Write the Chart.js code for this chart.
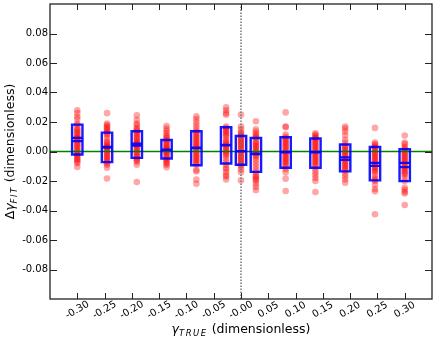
<!DOCTYPE html>
<html><head><meta charset="utf-8">
<script src="https://cdn.jsdelivr.net/npm/chart.js@4/dist/chart.umd.min.js"></script>
<style>html,body{margin:0;padding:0;background:#fff}canvas{display:block}</style>
</head><body>
<canvas id="c" width="436" height="341"></canvas>
<script>
// ---- data ----
const gammaTrue = [-0.3, -0.2455, -0.1909, -0.1364, -0.0818, -0.0273, 0.0, 0.0273, 0.0818, 0.1364, 0.1909, 0.2455, 0.3];

const samplesM300 = [0.028, 0.026, 0.0235, 0.022, 0.019, 0.018, 0.016, 0.015, 0.014, 0.013, 0.012, 0.011, 0.010, 0.009, 0.009, 0.008, 0.007, 0.006, 0.005, 0.004, 0.003, 0.002, 0.001, 0.000, -0.001, -0.002, -0.003, -0.004, -0.005, -0.006, -0.007, -0.008, -0.0105];
const samplesM245 = [0.026, 0.019, 0.018, 0.017, 0.016, 0.015, 0.014, 0.013, 0.012, 0.011, 0.009, 0.007, 0.006, 0.005, 0.004, 0.003, 0.003, 0.002, 0.001, 0.000, -0.001, -0.002, -0.003, -0.004, -0.005, -0.006, -0.007, -0.008, -0.009, -0.011, -0.0183];
const samplesM191 = [0.0245, 0.0215, 0.019, 0.018, 0.016, 0.015, 0.014, 0.013, 0.012, 0.011, 0.010, 0.009, 0.008, 0.007, 0.006, 0.005, 0.005, 0.004, 0.003, 0.002, 0.001, 0.000, -0.001, -0.002, -0.003, -0.004, -0.005, -0.006, -0.007, -0.009, -0.0207];
const samplesM136 = [0.0173, 0.0155, 0.014, 0.0125, 0.011, 0.010, 0.009, 0.008, 0.007, 0.006, 0.005, 0.004, 0.003, 0.002, 0.002, 0.001, 0.000, 0.000, -0.001, -0.002, -0.003, -0.004, -0.005, -0.006, -0.007, -0.008, -0.009, -0.0106];
const samplesM082 = [0.0238, 0.022, 0.020, 0.018, 0.016, 0.014, 0.013, 0.012, 0.011, 0.010, 0.009, 0.008, 0.007, 0.006, 0.005, 0.004, 0.003, 0.002, 0.001, 0.000, -0.001, -0.002, -0.003, -0.004, -0.005, -0.006, -0.007, -0.008, -0.009, -0.0125, -0.0135, -0.019, -0.0219];
const samplesM027 = [0.0299, 0.028, 0.026, 0.025, 0.017, 0.016, 0.015, 0.014, 0.013, 0.012, 0.011, 0.010, 0.008, 0.007, 0.006, 0.005, 0.004, 0.003, 0.002, 0.001, 0.000, -0.001, -0.002, -0.003, -0.005, -0.007, -0.009, -0.011, -0.012, -0.014, -0.016, -0.017, -0.019];
const samplesZero = [0.025, 0.017, 0.015, 0.013, 0.012, 0.011, 0.010, 0.009, 0.008, 0.007, 0.006, 0.005, 0.004, 0.003, 0.002, 0.001, 0.000, -0.001, -0.002, -0.003, -0.004, -0.005, -0.006, -0.007, -0.008, -0.009, -0.010, -0.012, -0.014, -0.0196];
const samplesP027 = [0.0205, 0.015, 0.0135, 0.012, 0.011, 0.010, 0.009, 0.007, 0.006, 0.005, 0.004, 0.003, 0.002, 0.001, 0.000, -0.001, -0.002, -0.003, -0.004, -0.006, -0.008, -0.010, -0.012, -0.014, -0.016, -0.017, -0.018, -0.019, -0.020, -0.022, -0.024, -0.0263];
const samplesP082 = [0.0265, 0.017, 0.0165, 0.0115, 0.010, 0.009, 0.008, 0.007, 0.006, 0.005, 0.004, 0.003, 0.002, 0.001, 0.000, -0.001, -0.002, -0.003, -0.004, -0.005, -0.006, -0.007, -0.008, -0.009, -0.010, -0.012, -0.014, -0.0184, -0.0268];
const samplesP136 = [0.0124, 0.0115, 0.0105, 0.0095, 0.009, 0.008, 0.007, 0.006, 0.005, 0.004, 0.003, 0.002, 0.001, 0.000, -0.001, -0.002, -0.003, -0.004, -0.005, -0.006, -0.007, -0.008, -0.009, -0.010, -0.012, -0.014, -0.016, -0.018, -0.020, -0.0275];
const samplesP191 = [0.0169, 0.0155, 0.0135, 0.011, 0.008, 0.006, 0.004, 0.003, 0.002, 0.001, 0.000, -0.001, -0.002, -0.003, -0.004, -0.005, -0.006, -0.007, -0.008, -0.009, -0.010, -0.011, -0.012, -0.013, -0.015, -0.017, -0.019, -0.0212];
const samplesP245 = [0.016, 0.006, 0.005, 0.004, 0.003, 0.002, 0.001, 0.000, -0.001, -0.002, -0.003, -0.004, -0.005, -0.006, -0.007, -0.008, -0.009, -0.010, -0.011, -0.012, -0.013, -0.014, -0.016, -0.018, -0.019, -0.020, -0.0225, -0.0255, -0.027, -0.0425];
const samplesP300 = [0.0108, 0.006, 0.005, 0.003, 0.002, 0.001, 0.000, -0.001, -0.002, -0.003, -0.004, -0.005, -0.006, -0.007, -0.008, -0.009, -0.010, -0.011, -0.012, -0.013, -0.014, -0.015, -0.016, -0.018, -0.020, -0.0245, -0.026, -0.0275, -0.0285, -0.0363];

const samples = [samplesM300, samplesM245, samplesM191, samplesM136, samplesM082, samplesM027, samplesZero,
                 samplesP027, samplesP082, samplesP136, samplesP191, samplesP245, samplesP300];

const boxTop    = [0.0182, 0.0128, 0.0137, 0.0078, 0.0137, 0.0164, 0.0105, 0.0092, 0.0097, 0.0088, 0.0047, 0.0031, 0.0016];
const boxBottom = [-0.0020, -0.0072, -0.0043, -0.0047, -0.0093, -0.0081, -0.0090, -0.0138, -0.0110, -0.0110, -0.0135, -0.0196, -0.0201];
const medians   = [0.0070, 0.0026, 0.0040, 0.0010, 0.0022, 0.0041, 0.0001, -0.0018, -0.0006, -0.0006, -0.0057, -0.0097, -0.0106];
const means     = [0.0092, 0.0032, 0.0054, 0.0013, 0.0026, 0.0045, 0.0003, -0.0014, -0.0003, -0.0003, -0.0039, -0.0077, -0.0077];

const xTickValues = [-0.30, -0.25, -0.20, -0.15, -0.10, -0.05, 0.00, 0.05, 0.10, 0.15, 0.20, 0.25, 0.30];
const xTickLabels = ['-0.30', '-0.25', '-0.20', '-0.15', '-0.10', '-0.05', '-0.00', '0.05', '0.10', '0.15', '0.20', '0.25', '0.30'];
const yTickValues = [-0.08, -0.06, -0.04, -0.02, 0.00, 0.02, 0.04, 0.06, 0.08];
const yTickLabels = ['-0.08', '-0.06', '-0.04', '-0.02', '0.00', '0.02', '0.04', '0.06', '0.08'];
const xRange = [-0.35, 0.35];
const yRange = [-0.1, 0.1];
const boxHalfWidth = 0.0095;

// ---- build datasets from the arrays ----
const pointData = [];
samples.forEach((arr, i) => arr.forEach(v => pointData.push({x: gammaTrue[i], y: v})));

const boxData = [];
gammaTrue.forEach((g, i) => {
  boxData.push({x: g - boxHalfWidth, y: boxBottom[i]}, {x: g + boxHalfWidth, y: boxBottom[i]},
               {x: g + boxHalfWidth, y: boxTop[i]}, {x: g - boxHalfWidth, y: boxTop[i]},
               {x: g - boxHalfWidth, y: boxBottom[i]}, {x: g, y: null});
});
const centerData = [];
gammaTrue.forEach((g, i) => {
  centerData.push({x: g - boxHalfWidth, y: medians[i]}, {x: g + boxHalfWidth, y: medians[i]}, {x: g, y: null});
  centerData.push({x: g - boxHalfWidth, y: means[i]}, {x: g + boxHalfWidth, y: means[i]}, {x: g, y: null});
});

const decor = {
  id: 'decor',
  afterDraw(chart) {
    const ctx = chart.ctx, ca = chart.chartArea, xs = chart.scales.x, ys = chart.scales.y;
    ctx.save();
    // frame
    ctx.strokeStyle = '#222'; ctx.lineWidth = 1.3;
    ctx.strokeRect(ca.left, ca.top, ca.right - ca.left, ca.bottom - ca.top);
    // inward ticks
    ctx.lineWidth = 1; ctx.strokeStyle = '#222';
    ctx.beginPath();
    xTickValues.forEach(v => {
      const px = Math.round(xs.getPixelForValue(v)) + 0.5;
      ctx.moveTo(px, ca.bottom); ctx.lineTo(px, ca.bottom - 6);
      ctx.moveTo(px, ca.top); ctx.lineTo(px, ca.top + 6);
    });
    yTickValues.forEach(v => {
      const py = Math.round(ys.getPixelForValue(v)) + 0.5;
      ctx.moveTo(ca.left, py); ctx.lineTo(ca.left + 7, py);
      ctx.moveTo(ca.right, py); ctx.lineTo(ca.right - 7, py);
    });
    ctx.stroke();
    // y tick labels
    ctx.fillStyle = '#000';
    ctx.font = '10px "DejaVu Sans"';
    ctx.textAlign = 'right'; ctx.textBaseline = 'middle';
    yTickValues.forEach((v, i) => ctx.fillText(yTickLabels[i], ca.left - 2, ys.getPixelForValue(v)));
    // x tick labels (rotated)
    ctx.textAlign = 'center';
    xTickValues.forEach((v, i) => {
      ctx.save();
      ctx.translate(xs.getPixelForValue(v), ca.bottom + 11);
      ctx.rotate(-30 * Math.PI / 180);
      ctx.fillText(xTickLabels[i], 0, 0);
      ctx.restore();
    });
    // composite title helper
    function drawTitle(parts, cx, baseline) {
      let w = 0;
      parts.forEach(p => { ctx.font = p.font; p.w = p.spacing ? [...p.t].reduce((a, c) => a + ctx.measureText(c).width + p.spacing, 0) : ctx.measureText(p.t).width; w += p.w; });
      let x = cx - w / 2;
      ctx.textAlign = 'left'; ctx.textBaseline = 'alphabetic';
      parts.forEach(p => {
        ctx.font = p.font;
        if (p.spacing) {
          let xx = x;
          [...p.t].forEach(c => { ctx.fillText(c, xx, baseline + (p.dy || 0)); xx += ctx.measureText(c).width + p.spacing; });
        } else {
          ctx.fillText(p.t, x, baseline + (p.dy || 0));
        }
        x += p.w;
      });
    }
    const mid = (ca.left + ca.right) / 2;
    drawTitle([
      {t: 'γ', font: 'italic 12.5px "DejaVu Sans"'},
      {t: 'TRUE', font: 'italic 8.5px "DejaVu Sans"', dy: 3, spacing: 1.5},
      {t: ' (dimensionless)', font: '12.5px "DejaVu Sans"'}
    ], mid, 333);
    ctx.save();
    ctx.translate(14, (ca.top + ca.bottom) / 2);
    ctx.rotate(-Math.PI / 2);
    drawTitle([
      {t: 'Δ', font: '12.5px "DejaVu Sans"'},
      {t: 'γ', font: 'italic 12.5px "DejaVu Sans"'},
      {t: 'FIT', font: 'italic 8.5px "DejaVu Sans"', dy: 3, spacing: 1.5},
      {t: ' (dimensionless)', font: '12.5px "DejaVu Sans"'}
    ], 0, 0);
    ctx.restore();
    ctx.restore();
  }
};

new Chart(document.getElementById('c'), {
  type: 'scatter',
  data: {
    datasets: [
      {label: 'zero', type: 'line', data: [{x: xRange[0], y: 0}, {x: xRange[1], y: 0}], borderColor: '#008000', borderWidth: 1.3, pointRadius: 0, order: 4},
      {label: 'samples', data: pointData, backgroundColor: 'rgba(255,0,0,0.35)', borderWidth: 0, pointRadius: 3.3, order: 5},
      {label: 'gamma0', type: 'line', data: [{x: 0, y: yRange[0]}, {x: 0, y: yRange[1]}], borderColor: '#777', borderWidth: 1.5, borderDash: [1.5, 1.5], pointRadius: 0, order: 3},
      {label: 'boxes', type: 'line', data: boxData, borderColor: 'rgba(0,0,255,0.9)', borderWidth: 2.4, pointRadius: 0, spanGaps: false, borderJoinStyle: 'miter', borderCapStyle: 'square', order: 1},
      {label: 'centres', type: 'line', data: centerData, borderColor: 'rgba(0,0,255,0.9)', borderWidth: 2.2, pointRadius: 0, spanGaps: false, borderCapStyle: 'butt', order: 2}
    ]
  },
  options: {
    responsive: false, animation: false, devicePixelRatio: 1,
    layout: {padding: {left: 50, right: 2, top: 3, bottom: 42}},
    scales: {
      x: {type: 'linear', min: xRange[0], max: xRange[1], display: false},
      y: {type: 'linear', min: yRange[0], max: yRange[1], display: false}
    },
    plugins: {legend: {display: false}, tooltip: {enabled: false}}
  },
  plugins: [decor]
});
</script>
</body></html>
